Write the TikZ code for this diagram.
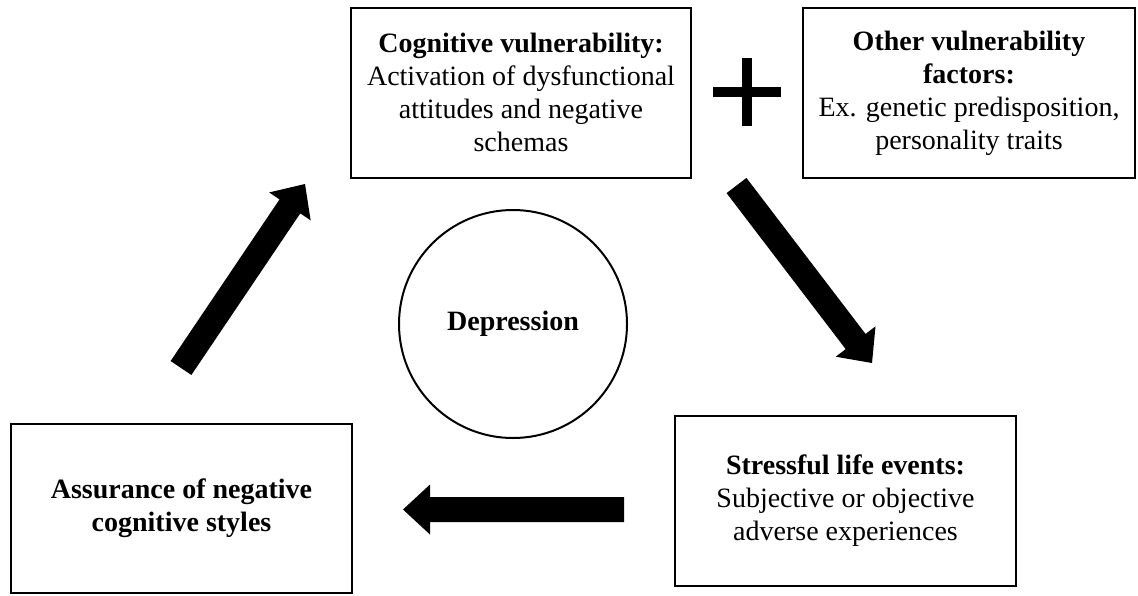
\documentclass[tikz,border=0pt]{standalone}
\usepackage{fontspec}
\setmainfont{Liberation Serif}
\usetikzlibrary{calc}
% block arrow from tail #1 to tip #2
\newcommand\blockarrow[2]{%
  \coordinate (ba-b) at ($(#2)!13.5pt!(#1)$);
  \fill[black]
    ($(#1)!6.25pt!90:(#2)$) --
    ($(ba-b)!6.25pt!90:(#2)$) --
    ($(ba-b)!12.5pt!90:(#2)$) --
    (#2) --
    ($(ba-b)!12.5pt!-90:(#2)$) --
    ($(ba-b)!6.25pt!-90:(#2)$) --
    ($(#1)!6.25pt!-90:(#2)$) -- cycle;
}
\begin{document}
\begin{tikzpicture}[x=0.5pt,y=-0.5pt,
  txt/.style={font=\fontsize{14}{16.5}\selectfont},
  box/.style={draw,line width=1.1pt,inner sep=0pt,align=center,txt},
  ring/.style={draw,circle,line width=1pt,inner sep=0pt,txt}]
\useasboundingbox (0,0) rectangle (1138,595);

\node[box,minimum width=170pt,minimum height=85pt] (cog) at (521,92.6)
  {\textbf{Cognitive vulnerability:}\\Activation of dysfunctional\\attitudes and negative\\schemas};
\node[box,minimum width=166pt,minimum height=85pt] (other) at (969,93)
  {\textbf{Other vulnerability}\\\textbf{factors:}\\Ex. genetic predisposition,\\personality traits};
\node[box,minimum width=170.5pt,minimum height=85pt] (stress) at (845.5,501)
  {\textbf{Stressful life events:}\\Subjective or objective\\adverse experiences};
\node[box,minimum width=170.5pt,minimum height=84.5pt] (assur) at (181.5,508.5)
  {\textbf{Assurance of negative}\\\textbf{cognitive styles}};
\node[ring,minimum size=114pt] (dep) at (513,324) {\textbf{Depression}};

% plus sign
\fill[black] (713,87) rectangle (781,97);
\fill[black] (742,58) rectangle (752,126);

% arrows
\coordinate (a1t) at (181,368);
\coordinate (a1h) at (305,184);
\coordinate (a2t) at (736.5,185.5);
\coordinate (a2h) at (872,363);
\coordinate (a3t) at (624,509.5);
\coordinate (a3h) at (403,509.5);
\blockarrow{a1t}{a1h}
\blockarrow{a2t}{a2h}
\blockarrow{a3t}{a3h}
\end{tikzpicture}
\end{document}
